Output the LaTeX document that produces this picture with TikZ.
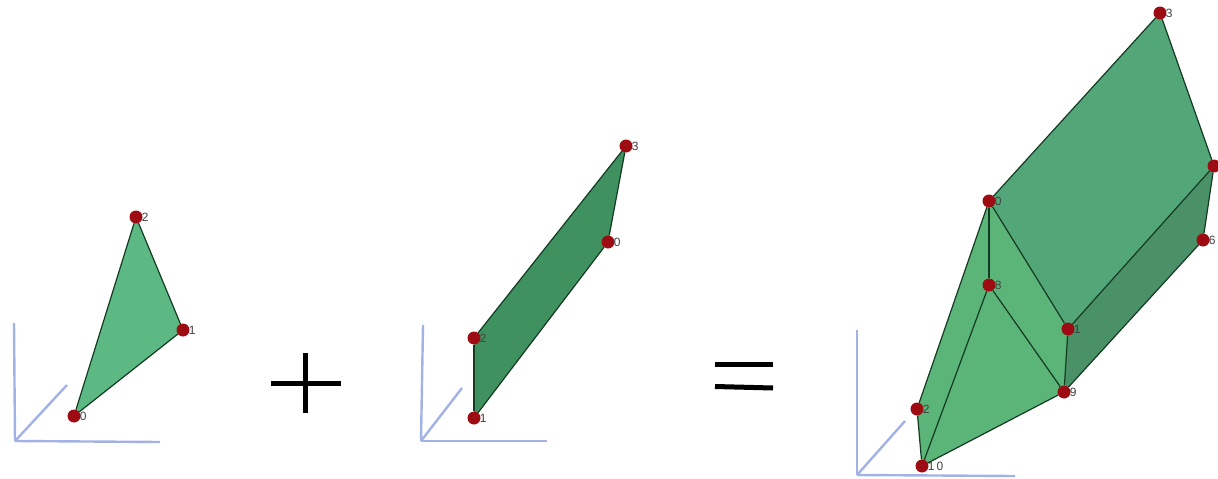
\documentclass[tikz,border=0pt]{standalone}
\usepackage{fontspec}
\setmainfont{Liberation Sans}
\usetikzlibrary{backgrounds}
\definecolor{vred}{HTML}{9C0C12}
\definecolor{vaxis}{HTML}{A3B2E6}
\definecolor{vtri}{HTML}{5DB983}
\definecolor{vpar}{HTML}{3F9160}
\definecolor{vtop}{HTML}{52A677}
\definecolor{vside}{HTML}{4A9168}
\definecolor{vfront}{HTML}{5BB478}
\definecolor{vedge}{HTML}{143A22}
\definecolor{vlbl}{HTML}{404040}
\tikzset{
  vert/.style={circle,fill=vred,inner sep=0pt,minimum size=13pt},
  vlab/.style={anchor=west,font=\fontsize{12}{12}\selectfont,text=vlbl,inner sep=0pt,xshift=-1pt},
  edge/.style={draw=vedge,line width=1.2pt},
  axis/.style={draw=vaxis,line width=2.4pt},
  sign/.style={draw=black,line width=5pt},
}
\begin{document}
\begin{tikzpicture}[x=1pt,y=-1pt]
  \useasboundingbox (0,0) rectangle (1218,479);
  % triangulo
  \foreach \n/\x/\y/\t in {a0/74/416/0,a1/183/330/1,a2/136/217/2} {
    \node[vert] (\n) at (\x,\y) {};
    \node[vlab] (l\n) at (\n.east) {\t};
  }
  \begin{scope}[on background layer]
    \fill[vtri] (a0.center) -- (a1.center) -- (a2.center) -- cycle;
  \end{scope}
  \draw[edge] (a0) -- (a1); \draw[edge] (a1) -- (a2); \draw[edge] (a2) -- (a0);
  \coordinate (ao) at (15,441);
  \coordinate (ax) at (160,442);
  \coordinate (ay) at (14,323);
  \coordinate (az) at (67,385);
  \draw[axis] (ao) -- (ax); \draw[axis] (ao) -- (ay); \draw[axis] (ao) -- (az);
  % mais
  \coordinate (pl) at (271,383);
  \coordinate (pr) at (341,383);
  \coordinate (pt) at (305,353);
  \coordinate (pb) at (305,413);
  \draw[sign] (pl) -- (pr); \draw[sign] (pt) -- (pb);
  % paralelogramo
  \foreach \n/\x/\y/\t in {b3/626/146/3,b0/608/242/0,b2/474/338/2,b1/474/418/1} {
    \node[vert] (\n) at (\x,\y) {};
    \node[vlab] (l\n) at (\n.east) {\t};
  }
  \begin{scope}[on background layer]
    \fill[vpar] (b3.center) -- (b0.center) -- (b1.center) -- (b2.center) -- cycle;
  \end{scope}
  \draw[edge] (b3) -- (b0); \draw[edge] (b0) -- (b1); \draw[edge] (b1) -- (b2); \draw[edge] (b2) -- (b3);
  \coordinate (bo) at (421,441);
  \coordinate (bx) at (547,441);
  \coordinate (by) at (423,325);
  \coordinate (bz) at (462,388);
  \draw[axis] (bo) -- (bx); \draw[axis] (bo) -- (by); \draw[axis] (bo) -- (bz);
  % igual
  \coordinate (e1) at (715,364);
  \coordinate (e2) at (773,364);
  \coordinate (e3) at (715,386.5);
  \coordinate (e4) at (773,388);
  \draw[sign] (e1) -- (e2); \draw[sign] (e3) -- (e4);
  % solido
  \node[vert] (c4) at (1214,166) {};
  \foreach \n/\x/\y/\t in {c3/1160/13/3,c0/989/201/0,c8/989/285/8,c1/1068/329/1,c9/1064/392/9,c2/917/409/2,c10/922/466/1\,0,c6/1203/240/6} {
    \node[vert] (\n) at (\x,\y) {};
    \node[vlab] (l\n) at (\n.east) {\t};
  }
  \begin{scope}[on background layer]
    \fill[vtop] (c0.center) -- (c3.center) -- (c4.center) -- (c1.center) -- cycle;
    \fill[vside] (c1.center) -- (c4.center) -- (c6.center) -- (c9.center) -- cycle;
    \fill[vfront] (c0.center) -- (c1.center) -- (c9.center) -- (c10.center) -- (c2.center) -- cycle;
  \end{scope}
  \foreach \p/\q in {c0/c3,c3/c4,c4/c6,c6/c9,c4/c1,c0/c1,c1/c9,c0/c8,c8/c9,c8/c10,c9/c10,c10/c2,c2/c0} {
    \draw[edge] (\p) -- (\q);
  }
  \coordinate (co) at (857,475);
  \coordinate (cx) at (1015,476);
  \coordinate (cy) at (857,330);
  \coordinate (cz) at (905,421);
  \draw[axis] (co) -- (cx); \draw[axis] (co) -- (cy); \draw[axis] (co) -- (cz);
\end{tikzpicture}
\end{document}
